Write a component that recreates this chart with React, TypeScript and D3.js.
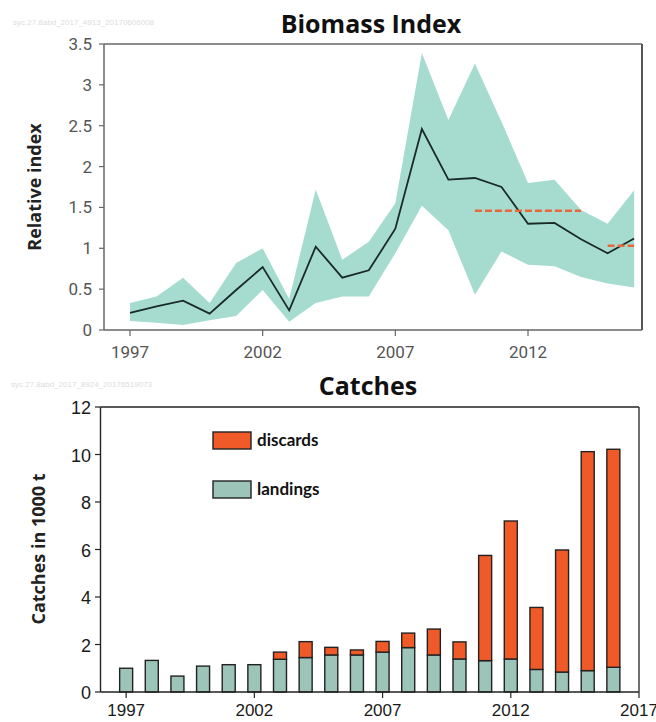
import React from 'react';
import * as d3 from 'd3';

// ---------- Biomass index data ----------
const biomassYears = [1997, 1998, 1999, 2000, 2001, 2002, 2003, 2004, 2005, 2006, 2007, 2008, 2009, 2010, 2011, 2012, 2013, 2014, 2015, 2016];
const biomassIndex = [0.21, 0.29, 0.36, 0.2, 0.49, 0.77, 0.24, 1.02, 0.64, 0.73, 1.24, 2.46, 1.84, 1.86, 1.75, 1.3, 1.31, 1.11, 0.94, 1.12];
const biomassUpper = [0.33, 0.41, 0.64, 0.33, 0.82, 1.0, 0.38, 1.72, 0.86, 1.08, 1.55, 3.39, 2.57, 3.26, 2.55, 1.8, 1.84, 1.47, 1.3, 1.71];
const biomassLower = [0.11, 0.09, 0.06, 0.12, 0.17, 0.49, 0.1, 0.33, 0.41, 0.41, 0.94, 1.52, 1.22, 0.43, 0.96, 0.8, 0.78, 0.65, 0.57, 0.52];
const refPeriodA = [2010, 2014];
const refValueA = 1.46;
const refPeriodB = [2015, 2016];
const refValueB = 1.03;
const biomassYTicks = [0, 0.5, 1, 1.5, 2, 2.5, 3, 3.5];
const biomassXTicks = [1997, 2002, 2007, 2012];

// ---------- Catches data ----------
const catchYears = [1997, 1998, 1999, 2000, 2001, 2002, 2003, 2004, 2005, 2006, 2007, 2008, 2009, 2010, 2011, 2012, 2013, 2014, 2015, 2016];
const landings = [1.0, 1.33, 0.67, 1.09, 1.15, 1.15, 1.38, 1.45, 1.56, 1.56, 1.68, 1.87, 1.56, 1.39, 1.32, 1.39, 0.95, 0.84, 0.9, 1.04];
const discards = [0, 0, 0, 0, 0, 0, 0.3, 0.67, 0.32, 0.21, 0.45, 0.61, 1.09, 0.72, 4.43, 5.81, 2.61, 5.14, 9.22, 9.18];
const catchYTicks = [0, 2, 4, 6, 8, 10, 12];
const catchXTicks = [1997, 2002, 2007, 2012, 2017];
const legendItems = ['discards', 'landings'];

const BAND = '#a6dccf';
const DISC = '#f05a28';
const LAND = '#9cc4b8';

export default function App() {
  // Top chart scales
  const bx = d3.scaleLinear().domain([1997, 2012]).range([130, 528]);
  const by = d3.scaleLinear().domain([0, 3.5]).range([330, 44]);
  const bLeft = 104, bRight = 642, bTop = 44, bBottom = 330;

  const area = d3
    .area<number>()
    .x((_, i) => bx(biomassYears[i]))
    .y0((_, i) => by(biomassLower[i]))
    .y1((_, i) => by(biomassUpper[i]));
  const line = d3
    .line<number>()
    .x((_, i) => bx(biomassYears[i]))
    .y((d) => by(d));

  // Bottom chart scales
  const cx = d3.scaleLinear().domain([1996, 2017]).range([100.5, 639]);
  const cy = d3.scaleLinear().domain([0, 12]).range([692, 407]);
  const barW = 13;

  const tickFontTop = 'Roboto, "Liberation Sans", sans-serif';
  const tickFontBottom = '"Liberation Sans", Arial, sans-serif';
  const titleFont = '"Open Sans", Lato, sans-serif';
  const legendFont = 'Lato, "Open Sans", sans-serif';

  return (
    <svg
      width={656}
      height={722}
      style={{ position: 'absolute', left: 0, top: 0, background: '#fff' }}
      xmlns="http://www.w3.org/2000/svg"
    >
      <rect x={0} y={0} width={656} height={722} fill="#fff" />
      {/* watermarks */}
      <text x={13} y={25} fontSize={8} fill="#dcdcdc" fontFamily={tickFontBottom}>
        syc.27.8abd_2017_4913_20170606008
      </text>
      <text x={11} y={387} fontSize={8} fill="#dcdcdc" fontFamily={tickFontBottom}>
        syc.27.8abd_2017_8924_20176519073
      </text>

      {/* ===== Biomass Index ===== */}
      <text x={371} y={33} textAnchor="middle" fontSize={25} fontWeight="bold" fontFamily={titleFont} fill="#111">
        Biomass Index
      </text>
      <path d={area(biomassIndex) || ''} fill={BAND} stroke="none" />
      <path d={line(biomassIndex) || ''} fill="none" stroke="#1a2a26" strokeWidth={1.8} />
      <line
        x1={bx(refPeriodA[0])}
        x2={bx(refPeriodA[1])}
        y1={by(refValueA)}
        y2={by(refValueA)}
        stroke="#e8683c"
        strokeWidth={2.5}
        strokeDasharray="7 3"
      />
      <line
        x1={bx(refPeriodB[0])}
        x2={bx(refPeriodB[1])}
        y1={by(refValueB)}
        y2={by(refValueB)}
        stroke="#e8683c"
        strokeWidth={2.5}
        strokeDasharray="7 3"
      />
      {/* frame */}
      <line x1={bLeft} x2={bRight} y1={bTop} y2={bTop} stroke="#666" strokeWidth={1.5} />
      <line x1={bLeft} x2={bRight} y1={bBottom} y2={bBottom} stroke="#666" strokeWidth={1.5} />
      <line x1={bLeft} x2={bLeft} y1={bTop} y2={bBottom} stroke="#666" strokeWidth={1.5} />
      <line x1={bRight} x2={bRight} y1={bTop} y2={bBottom} stroke="#555" strokeWidth={2} />
      {biomassYTicks.map((t) => (
        <g key={'by' + t}>
          <line x1={bLeft - 5} x2={bLeft} y1={by(t)} y2={by(t)} stroke="#666" strokeWidth={1.2} />
          <text
            x={bLeft - 12}
            y={by(t) + 6}
            textAnchor="end"
            fontSize={17}
            fill="#555"
            fontFamily={tickFontTop}
          >
            {String(t)}
          </text>
        </g>
      ))}
      {biomassXTicks.map((t) => (
        <g key={'bx' + t}>
          <line x1={bx(t)} x2={bx(t)} y1={bBottom} y2={bBottom + 6} stroke="#666" strokeWidth={1.2} />
          <text x={bx(t)} y={bBottom + 28} textAnchor="middle" fontSize={17} fill="#555" fontFamily={tickFontTop}>
            {String(t)}
          </text>
        </g>
      ))}
      <text
        transform={`translate(41,${(bTop + bBottom) / 2}) rotate(-90)`}
        textAnchor="middle"
        fontSize={18}
        fontWeight="bold"
        fontFamily={titleFont}
        fill="#222"
      >
        Relative index
      </text>

      {/* ===== Catches ===== */}
      <text x={368} y={395} textAnchor="middle" fontSize={25} fontWeight="bold" fontFamily={titleFont} fill="#111">
        Catches
      </text>
      {catchYears.map((yr, i) => (
        <g key={'bar' + yr}>
          <rect
            x={cx(yr) - barW / 2}
            y={cy(landings[i])}
            width={barW}
            height={cy(0) - cy(landings[i])}
            fill={LAND}
            stroke="#222"
            strokeWidth={1.4}
          />
          {discards[i] > 0 && (
            <rect
              x={cx(yr) - barW / 2}
              y={cy(landings[i] + discards[i])}
              width={barW}
              height={cy(landings[i]) - cy(landings[i] + discards[i])}
              fill={DISC}
              stroke="#222"
              strokeWidth={1.4}
            />
          )}
        </g>
      ))}
      {/* frame */}
      <line x1={100.5} x2={639} y1={407} y2={407} stroke="#222" strokeWidth={1.4} />
      <line x1={100.5} x2={639} y1={692} y2={692} stroke="#222" strokeWidth={1.4} />
      <line x1={100.5} x2={100.5} y1={407} y2={692} stroke="#222" strokeWidth={1.4} />
      <line x1={639} x2={639} y1={407} y2={692} stroke="#333" strokeWidth={1.4} />
      {catchYTicks.map((t) => (
        <g key={'cy' + t}>
          <line x1={95} x2={100.5} y1={cy(t)} y2={cy(t)} stroke="#222" strokeWidth={1.2} />
          <text x={91} y={cy(t) + 7} textAnchor="end" fontSize={18} fill="#1a1a1a" fontFamily={tickFontBottom}>
            {String(t)}
          </text>
        </g>
      ))}
      {catchXTicks.map((t) => (
        <g key={'cx' + t}>
          <line x1={cx(t)} x2={cx(t)} y1={692} y2={698} stroke="#222" strokeWidth={1.2} />
          <text x={cx(t)} y={716} textAnchor="middle" fontSize={17} fill="#1a1a1a" fontFamily={tickFontBottom}>
            {String(t)}
          </text>
        </g>
      ))}
      <text
        transform={`translate(45,549) rotate(-90)`}
        textAnchor="middle"
        fontSize={18}
        fontWeight="bold"
        fontFamily={titleFont}
        fill="#222"
      >
        Catches in 1000 t
      </text>
      {/* legend */}
      {legendItems.map((name, i) => (
        <g key={name} transform={`translate(213,${432 + i * 49})`}>
          <rect x={0} y={0} width={38} height={17} fill={i === 0 ? DISC : LAND} stroke="#222" strokeWidth={1.4} />
          <text x={44} y={14} fontSize={17} fontWeight="bold" fontFamily={legendFont} fill="#111">
            {name}
          </text>
        </g>
      ))}
    </svg>
  );
}
